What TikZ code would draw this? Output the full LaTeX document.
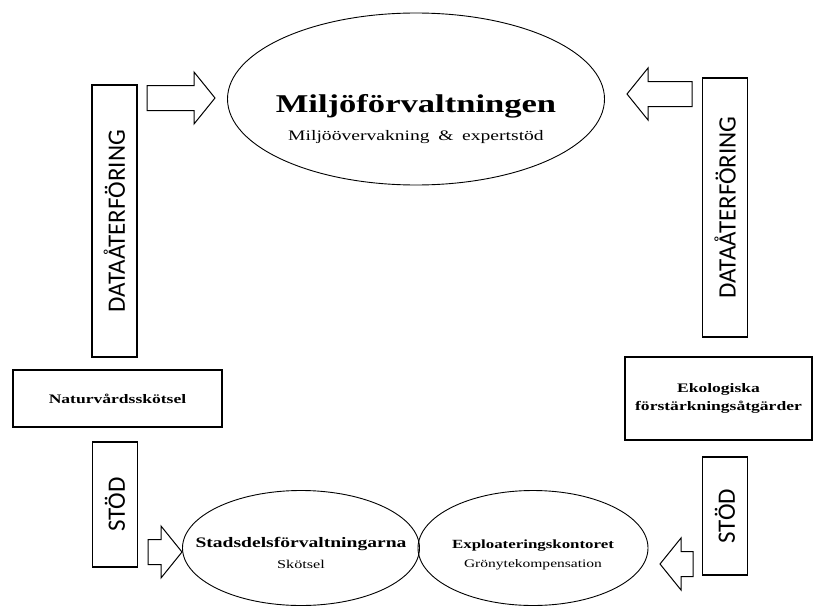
\documentclass[tikz,border=0pt]{standalone}
\usepackage{fontspec}
\setmainfont{Liberation Serif}
\newfontfamily\widefont[FakeStretch=1.35]{Liberation Serif}
\newfontfamily\capsfont{Carlito}
\usetikzlibrary{shapes.geometric}

% block arrow: centre, angle, half length
\newcommand{\blkarrow}[3]{%
  \draw[blk, shift={(#1)}, rotate=#2] (-#3,-12.5) -- (#3-21,-12.5) -- (#3-21,-26)
    -- (#3,0) -- (#3-21,26) -- (#3-21,12.5) -- (-#3,12.5) -- cycle;}

\begin{document}
\begin{tikzpicture}[x=1pt, y=-1pt,
  blk/.style={draw, line width=1pt, line join=miter},
  oval/.style={draw, ellipse, line width=0.9pt, inner sep=0pt},
  vbox/.style={draw, line width=1.1pt, rotate=90, minimum height=45pt, inner sep=0pt,
    font=\capsfont\fontsize{25}{25}\selectfont},
  hbox/.style={draw, line width=1.1pt, align=center, inner sep=0pt,
    font=\widefont\bfseries\fontsize{13}{18}\selectfont},
  head/.style={anchor=base, inner sep=0pt, font=\widefont\bfseries#1},
  sub/.style={anchor=base, inner sep=0pt, font=\widefont#1}]
\useasboundingbox (0,0) rectangle (816,610);

\node[oval, minimum width=377pt, minimum height=172pt] at (416,99) (miljo) {};
\node[head=\fontsize{25.6}{30}\selectfont] at ([yshift=-13pt]miljo.center) (miljoname)
  {Miljöförvaltningen};
\node[sub=\fontsize{14.5}{17}\selectfont] at ([yshift=-41pt]miljo.center) (miljotask)
  {Miljöövervakning\hspace{0.6em}\&\hspace{0.6em}expertstöd};

\node[oval, minimum width=237pt, minimum height=115pt] at (301,548) (stads) {};
\node[head=\fontsize{14.5}{17}\selectfont] at ([yshift=1pt]stads.center) (stadsname)
  {Stadsdelsförvaltningarna};
\node[sub=\fontsize{12}{14}\selectfont] at ([yshift=-20pt]stads.center) (stadstask)
  {Skötsel};

\node[oval, minimum width=230pt, minimum height=115pt] at (533,548) (exploa) {};
\node[head=\fontsize{12.5}{15}\selectfont] at (exploa.center) (exploaname)
  {Exploateringskontoret};
\node[sub=\fontsize{11.5}{14}\selectfont] at ([yshift=-19pt]exploa.center) (exploatask)
  {Grönytekompensation};

\node[vbox, minimum width=272pt] at (114.5,221) (dataL) {DATAÅTERFÖRING};
\node[vbox, minimum width=259pt] at (725,207.5) (dataR) {DATAÅTERFÖRING};
\node[hbox, minimum width=209pt, minimum height=57pt] at (117.5,398.5) (natur)
  {Naturvårdsskötsel};
\node[hbox, minimum width=187pt, minimum height=83pt] at (718.5,398.5) (eko)
  {Ekologiska\\förstärkningsåtgärder};
\node[vbox, minimum width=125pt] at (115,504.5) (stodL) {STÖD};
\node[vbox, minimum width=118pt] at (725,516) (stodR) {STÖD};

%block arrows
\coordinate (toL) at (181,98);
\coordinate (toR) at (659.5,94);
\coordinate (botL) at (165,552);
\coordinate (botR) at (676.5,564);
\blkarrow{toL}{0}{34}
\blkarrow{toR}{180}{32.5}
\blkarrow{botL}{0}{17}
\blkarrow{botR}{180}{16.5}
\end{tikzpicture}
\end{document}
